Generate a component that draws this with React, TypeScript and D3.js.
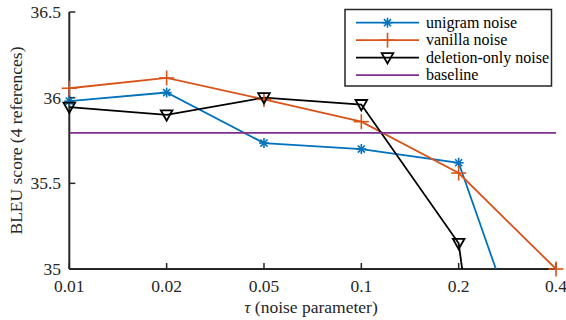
import React from "react";
import * as d3 from "d3";

const tauLabels = ["0.01", "0.02", "0.05", "0.1", "0.2", "0.4"];
const unigram = [35.98, 36.03, 35.735, 35.7, 35.62, 34.0];
const vanilla = [36.055, 36.115, 35.99, 35.86, 35.56, 35.0];
const deletion = [35.945, 35.9, 36.0, 35.96, 35.15, 31.0];
const baselineValue = 35.795;
const yTicks = [35, 35.5, 36, 36.5];
const yTickLabels = ["35", "35.5", "36", "36.5"];

const W = 566;
const H = 320;
const L = 69.3;
const R = 556;
const T = 12;
const B = 269;

const BLUE = "#0072BD";
const ORANGE = "#D95319";
const BLACK = "#000000";
const PURPLE = "#7E2F8E";
const AXIS = "#262626";
const FONT = '"Liberation Serif", "DejaVu Serif", serif';

function Asterisk({ x, y, c }: { x: number; y: number; c: string }) {
  const r = 5;
  const d = r * Math.SQRT1_2;
  return (
    <g stroke={c} strokeWidth={1.6}>
      <line x1={x - r} y1={y} x2={x + r} y2={y} />
      <line x1={x} y1={y - r} x2={x} y2={y + r} />
      <line x1={x - d} y1={y - d} x2={x + d} y2={y + d} />
      <line x1={x - d} y1={y + d} x2={x + d} y2={y - d} />
    </g>
  );
}

function Plus({ x, y, c }: { x: number; y: number; c: string }) {
  const r = 7.5;
  return (
    <g stroke={c} strokeWidth={1.6}>
      <line x1={x - r} y1={y} x2={x + r} y2={y} />
      <line x1={x} y1={y - r} x2={x} y2={y + r} />
    </g>
  );
}

function TriDown({ x, y, c }: { x: number; y: number; c: string }) {
  const w = 5.8;
  return (
    <path
      d={`M${x - w},${y - 4.5}L${x + w},${y - 4.5}L${x},${y + 5.8}Z`}
      fill="none"
      stroke={c}
      strokeWidth={1.8}
      strokeLinejoin="miter"
    />
  );
}

export default function App() {
  const x = d3.scaleLinear().domain([0, tauLabels.length - 1]).range([L, R]);
  const y = d3.scaleLinear().domain([35, 36.5]).range([B, T]);
  const line = d3
    .line<number>()
    .x((_, i) => x(i))
    .y((d) => y(d));

  const series = [
    { name: "unigram noise", data: unigram, color: BLUE, M: Asterisk },
    { name: "vanilla noise", data: vanilla, color: ORANGE, M: Plus },
    { name: "deletion-only noise", data: deletion, color: BLACK, M: TriDown },
  ];

  const legendRows = [
    ...series.map((s) => ({ name: s.name, color: s.color, M: s.M as any })),
    { name: "baseline", color: PURPLE, M: null as any },
  ];

  return (
    <svg width={W} height={H} style={{ display: "block", position: "absolute", left: 0, top: 0, background: "#fff", fontFamily: FONT }}>
      <defs>
        <clipPath id="plotclip">
          <rect x={L} y={T} width={R - L + 10} height={B - T} />
        </clipPath>
      </defs>
      <rect x={0} y={0} width={W} height={H} fill="#fff" />

      {/* axes */}
      <g stroke={AXIS} strokeWidth={2} fill="none">
        <line x1={L} y1={T} x2={L} y2={B} />
        <line x1={L} y1={B} x2={R} y2={B} />
        {tauLabels.map((_, i) => (
          <line key={"xt" + i} x1={x(i)} y1={B} x2={x(i)} y2={B - 6} strokeWidth={1.5} />
        ))}
        {yTicks.map((v) => (
          <line key={"yt" + v} x1={L} y1={y(v)} x2={L + 6} y2={y(v)} strokeWidth={1.5} />
        ))}
      </g>
      <g style={{ fontFamily: FONT, fontSize: "17.5px" }} fill={AXIS}>
        {tauLabels.map((t, i) => (
          <text key={"xl" + i} x={x(i)} y={292} textAnchor="middle">
            {t}
          </text>
        ))}
        {yTicks.map((v, i) => (
          <text key={"yl" + v} x={61} y={y(v) + 6} textAnchor="end">
            {yTickLabels[i]}
          </text>
        ))}
        <text x={311} y={313} textAnchor="middle">
          <tspan fontStyle="italic">τ</tspan> (noise parameter)
        </text>
        <text transform={`translate(21.5,${(T + B) / 2}) rotate(-90)`} textAnchor="middle">
          BLEU score (4 references)
        </text>
      </g>

      {/* data lines */}
      <g clipPath="url(#plotclip)" fill="none" strokeWidth={1.8}>
        {series.map((s) => (
          <path key={s.name} d={line(s.data) || ""} stroke={s.color} />
        ))}
        <line x1={L} x2={R} y1={y(baselineValue)} y2={y(baselineValue)} stroke={PURPLE} />
      </g>
      {/* markers */}
      {series.map((s) =>
        s.data.map((v, i) =>
          v >= 35 && v <= 36.5 ? <s.M key={s.name + i} x={x(i)} y={y(v)} c={s.color} /> : null
        )
      )}

      {/* legend */}
      <g>
        <rect x={345} y={9.5} width={206.5} height={76.5} fill="#fff" stroke={AXIS} strokeWidth={1.5} />
        {legendRows.map((r, i) => {
          const cy = 22.7 + i * 17.5;
          const M = r.M;
          return (
            <g key={r.name}>
              <line x1={356} x2={419} y1={cy} y2={cy} stroke={r.color} strokeWidth={1.8} />
              {M ? <M x={387.5} y={cy} c={r.color} /> : null}
              <text x={426} y={cy + 5} style={{ fontFamily: FONT, fontSize: "16px" }} fill="#000">
                {r.name}
              </text>
            </g>
          );
        })}
      </g>
    </svg>
  );
}
